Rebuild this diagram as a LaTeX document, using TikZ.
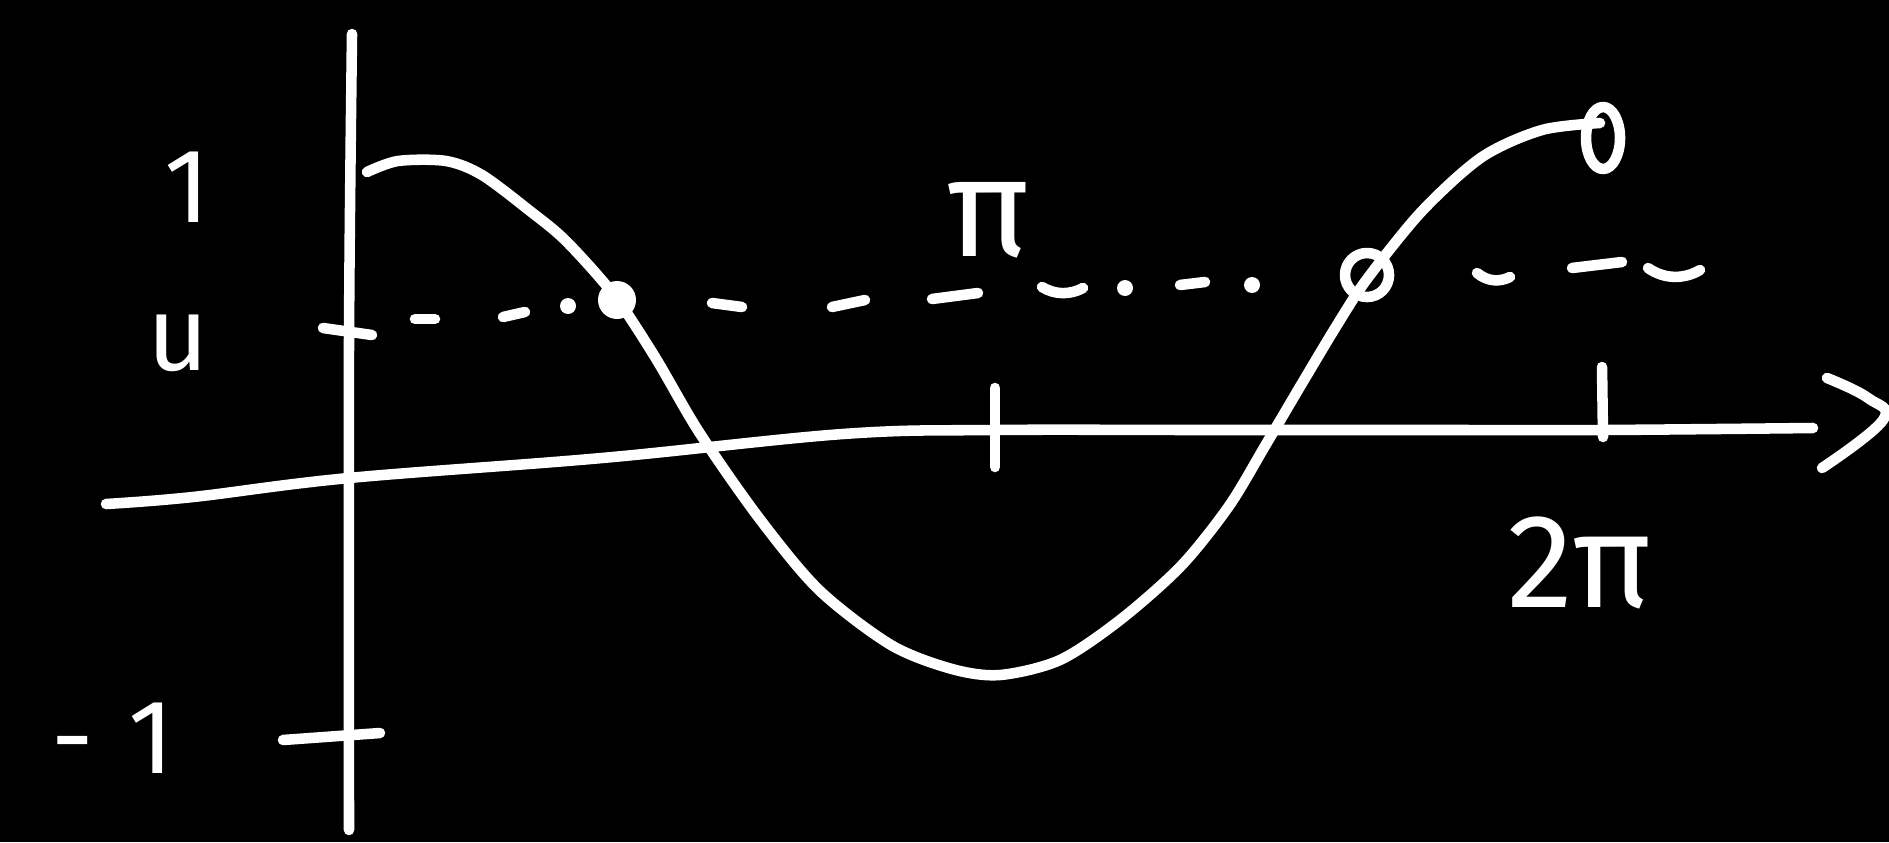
\documentclass[tikz,border=0pt]{standalone}
\usepackage{fontspec}
\setmainfont{Fira Sans}

\begin{document}
\begin{tikzpicture}[every node/.style={text=white, font=\fontsize{30}{36}\selectfont}, chalk/.style={white, line width=3pt, line cap=round, line join=round}]
	\fill[black] (0,0) rectangle (18.89,8.42);
	\useasboundingbox (0,0) rectangle (18.89,8.42);
	% axes
	\draw[chalk] plot[smooth, tension=0.6] coordinates {(1.06,3.38) (1.93,3.45) (3.49,3.64) (6.02,3.84) (8.43,4.08) (9.95,4.12) (12.05,4.12) (14.46,4.12) (16.02,4.12) (18.13,4.14)};
	\draw[chalk] plot[smooth, tension=0.7] coordinates {(18.27,4.64) (18.68,4.44) (18.83,4.22) (18.22,3.74)};
	\draw[chalk] plot[smooth, tension=0.5] coordinates {(3.52,8.08) (3.49,5.00) (3.49,0.12)};
	% ticks
	\draw[chalk] (3.23,5.14) -- (3.72,5.07);
	\draw[chalk] (2.83,1.02) -- (3.80,1.09);
	\draw[chalk] (9.95,4.54) -- (9.95,3.75);
	\draw[chalk] (16.02,4.75) -- (16.03,4.05);
	% cosine
	\draw[chalk] plot[smooth, tension=0.5] coordinates {(3.67,6.70) (3.98,6.81) (4.46,6.81) (4.82,6.67) (5.30,6.31) (5.66,6.01) (6.14,5.47) (6.55,4.85) (6.99,4.10) (7.59,3.24) (8.19,2.52) (8.91,1.97) (9.52,1.73) (10.00,1.67) (10.60,1.82) (11.20,2.22) (11.81,2.76) (12.29,3.36) (12.65,3.96) (13.01,4.57) (13.37,5.17) (13.67,5.63) (14.22,6.31) (14.82,6.85) (15.42,7.12) (16.00,7.19)};
	% level u
	\foreach \a/\b in {{4.15,5.23}/{4.35,5.23}, {5.03,5.25}/{5.25,5.30}, {7.12,5.39}/{7.42,5.35}, {8.32,5.35}/{8.65,5.42}, {9.32,5.43}/{9.78,5.49}, {11.80,5.57}/{12.05,5.60}, {15.72,5.74}/{16.22,5.80}}
		\draw[chalk] (\a) -- (\b);
	\draw[chalk] (10.42,5.55) .. controls (10.55,5.47) and (10.70,5.47) .. (10.83,5.54);
	\draw[chalk] (14.77,5.69) .. controls (14.88,5.60) and (15.00,5.60) .. (15.10,5.65);
	\draw[chalk] (16.48,5.74) .. controls (16.65,5.62) and (16.85,5.63) .. (17.00,5.72);
	\foreach \p in {{5.68,5.36}, {11.25,5.54}, {12.52,5.57}}
		\fill[white] (\p) circle (0.08);
	\fill[white] (6.17,5.42) coordinate (lefthit) circle (0.19);
	\draw[chalk] (13.67,5.67) coordinate (righthit) circle (0.22);
	\draw[chalk] (16.03,7.04) coordinate (endpt) ellipse (0.17 and 0.31);
	% labels
	\node (one) at (1.87,6.55) {1};
	\node (u) at (1.78,4.99) {u};
	\node (minusone) at (1.13,1.04) {-\hspace{0.35cm}1};
	\node[font=\fontsize{40}{44}\selectfont] (pi) at (9.88,6.22) {π};
	\node[font=\fontsize{38}{44}\selectfont] (twopi) at (15.80,2.79) {2π};
\end{tikzpicture}
\end{document}
